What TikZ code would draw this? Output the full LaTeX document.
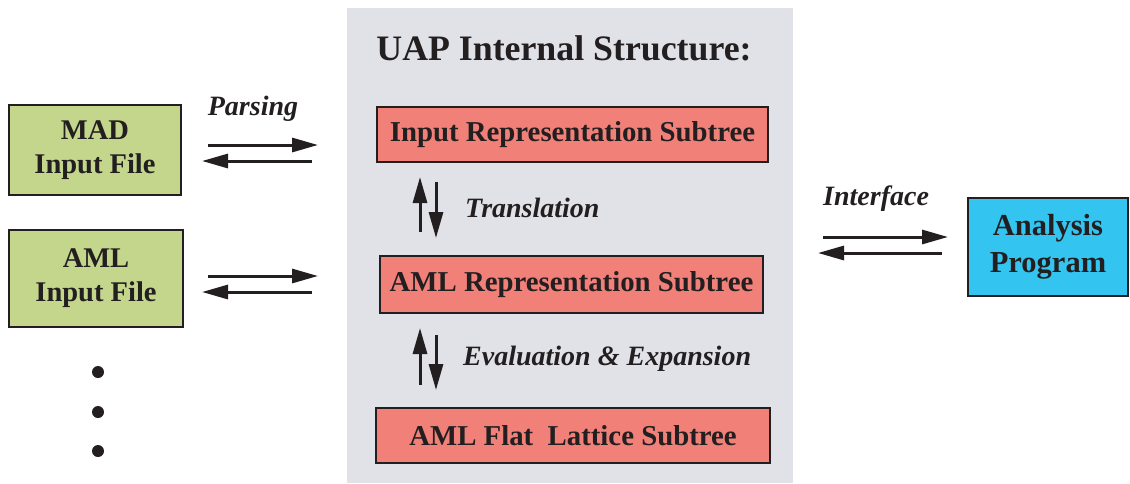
\documentclass[tikz,border=0pt]{standalone}
\usepackage{fontspec}
\setmainfont{Liberation Serif}
\usetikzlibrary{arrows.meta}
\definecolor{ink}{HTML}{231F20}
\definecolor{bggray}{HTML}{E1E2E8}
\definecolor{boxgreen}{HTML}{C3D68C}
\definecolor{boxpink}{HTML}{F08078}
\definecolor{boxblue}{HTML}{33C4F0}
\tikzset{
  filebox/.style={draw=ink, line width=2pt, fill=boxgreen, text=ink, align=center,
    font=\fontsize{28.5}{34}\selectfont\bfseries, inner sep=0pt},
  treebox/.style={draw=ink, line width=2pt, fill=boxpink, text=ink,
    font=\fontsize{28.8}{34}\selectfont\bfseries, inner sep=0pt},
  progbox/.style={draw=ink, line width=2pt, fill=boxblue, text=ink, align=center,
    font=\fontsize{30.5}{37}\selectfont\bfseries, inner sep=0pt},
  lbl/.style={text=ink, font=\fontsize{28}{32}\selectfont\bfseries\itshape, inner sep=0pt},
  flow/.style={draw=ink, line width=3pt, -{Triangle[length=26pt,width=14pt]}},
}
\begin{document}
\begin{tikzpicture}[x=1pt,y=-1pt]
\useasboundingbox (0,0) rectangle (1130,483);
\fill[bggray] (347,8) rectangle (793,483);
\node[text=ink, font=\fontsize{35.8}{40}\selectfont\bfseries, anchor=base, inner sep=0pt] (title) at (564,60) {UAP Internal Structure:};

\node[filebox, minimum width=172pt, minimum height=90pt] (mad) at (95,150) {MAD\\Input File};
\node[filebox, minimum width=174pt, minimum height=97pt] (aml) at (96,278.5) {AML\\Input File};

\node[treebox, minimum width=391pt, minimum height=55pt] (irs) at (572.5,134.5) {Input Representation Subtree};
\node[treebox, minimum width=383pt, minimum height=57pt] (ars) at (571.5,284.5) {AML Representation Subtree};
\node[treebox, minimum width=394pt, minimum height=55pt] (afl) at (573,435.5) {AML Flat\ \ Lattice Subtree};

\node[progbox, minimum width=160pt, minimum height=98pt] (ana) at (1048,247) {Analysis\\Program};

\node[lbl, anchor=base] (parsing) at (253,115) {Parsing};
\node[lbl, anchor=base west] (transl) at (465,217) {Translation};
\node[lbl, anchor=base west] (evalx) at (463,365) {Evaluation \& Expansion};
\node[lbl, anchor=base west] (iface) at (823,205) {Interface};

% parsing arrows
\coordinate (p1a) at (208,145); \coordinate (p1b) at (318,145);
\coordinate (p2a) at (312,161); \coordinate (p2b) at (202,161);
\draw[flow] (p1a) -- (p1b);
\draw[flow] (p2a) -- (p2b);
\coordinate (q1a) at (208,276); \coordinate (q1b) at (318,276);
\coordinate (q2a) at (312,292); \coordinate (q2b) at (202,292);
\draw[flow] (q1a) -- (q1b);
\draw[flow] (q2a) -- (q2b);

% translation arrows
\coordinate (t1a) at (420,232); \coordinate (t1b) at (420,177);
\coordinate (t2a) at (436,182); \coordinate (t2b) at (436,238);
\draw[flow] (t1a) -- (t1b);
\draw[flow] (t2a) -- (t2b);
\coordinate (e1a) at (420,385); \coordinate (e1b) at (420,328);
\coordinate (e2a) at (436,335); \coordinate (e2b) at (436,390);
\draw[flow] (e1a) -- (e1b);
\draw[flow] (e2a) -- (e2b);

% interface arrows
\coordinate (i1a) at (823,237); \coordinate (i1b) at (948,237);
\coordinate (i2a) at (942,253); \coordinate (i2b) at (818,253);
\draw[flow] (i1a) -- (i1b);
\draw[flow] (i2a) -- (i2b);

% dots
\fill[ink] (98,372) circle (6pt);
\fill[ink] (98,412) circle (6pt);
\fill[ink] (98,451) circle (6pt);
\end{tikzpicture}
\end{document}
